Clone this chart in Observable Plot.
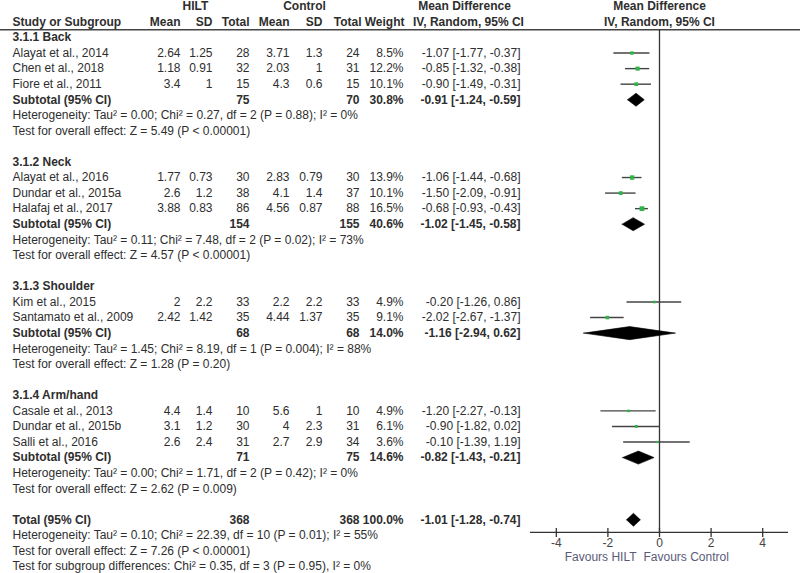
<!DOCTYPE html>
<html>
<head>
<meta charset="utf-8">
<script src="https://cdn.jsdelivr.net/npm/d3@7"></script>
<script src="https://cdn.jsdelivr.net/npm/@observablehq/plot@0.6"></script>
<style>
  html, body { margin: 0; padding: 0; background: #fff; }
  #chart svg { display: block; }
</style>
</head>
<body>
<div id="chart"></div>
<script>
// ---------------- data ----------------
const groups = ["3.1.1 Back", "3.1.2 Neck", "3.1.3 Shoulder", "3.1.4 Arm/hand"];
const studies = ["Alayat et al., 2014", "Chen et al., 2018", "Fiore et al., 2011",
  "Alayat et al., 2016", "Dundar et al., 2015a", "Halafaj et al., 2017",
  "Kim et al., 2015", "Santamato et al., 2009",
  "Casale et al., 2013", "Dundar et al., 2015b", "Salli et al., 2016"];
const studyGroup = [0, 0, 0, 1, 1, 1, 2, 2, 3, 3, 3];
const hiltMean = [2.64, 1.18, 3.4, 1.77, 2.6, 3.88, 2, 2.42, 4.4, 3.1, 2.6];
const hiltSD = [1.25, 0.91, 1, 0.73, 1.2, 0.83, 2.2, 1.42, 1.4, 1.2, 2.4];
const hiltN = [28, 32, 15, 30, 38, 86, 33, 35, 10, 30, 31];
const ctrlMean = [3.71, 2.03, 4.3, 2.83, 4.1, 4.56, 2.2, 4.44, 5.6, 4, 2.7];
const ctrlSD = [1.3, 1, 0.6, 0.79, 1.4, 0.87, 2.2, 1.37, 1, 2.3, 2.9];
const ctrlN = [24, 31, 15, 30, 37, 88, 33, 35, 10, 31, 34];
const weight = [8.5, 12.2, 10.1, 13.9, 10.1, 16.5, 4.9, 9.1, 4.9, 6.1, 3.6];
const md = [-1.07, -0.85, -0.90, -1.06, -1.50, -0.68, -0.20, -2.02, -1.20, -0.90, -0.10];
const mdLo = [-1.77, -1.32, -1.49, -1.44, -2.09, -0.93, -1.26, -2.67, -2.27, -1.82, -1.39];
const mdHi = [-0.37, -0.38, -0.31, -0.68, -0.91, -0.43, 0.86, -1.37, -0.13, 0.02, 1.19];

const subHiltN = [75, 154, 68, 71];
const subCtrlN = [70, 155, 68, 75];
const subWeight = [30.8, 40.6, 14.0, 14.6];
const subMd = [-0.91, -1.02, -1.16, -0.82];
const subLo = [-1.24, -1.45, -2.94, -1.43];
const subHi = [-0.59, -0.58, 0.62, -0.21];
const subTau2 = ["0.00", "0.11", "1.45", "0.00"];
const subChi2 = ["0.27", "7.48", "8.19", "1.71"];
const subDf = [2, 2, 1, 2];
const subHetP = ["= 0.88", "= 0.02", "= 0.004", "= 0.42"];
const subI2 = [0, 73, 88, 0];
const subZ = ["5.49", "4.57", "1.28", "2.62"];
const subZP = ["< 0.00001", "< 0.00001", "= 0.20", "= 0.009"];

const totalHiltN = 368, totalCtrlN = 368, totalWeight = 100.0;
const totalMd = -1.01, totalLo = -1.28, totalHi = -0.74;
const totalTau2 = "0.10", totalChi2 = "22.39", totalDf = 10, totalHetP = "= 0.01", totalI2 = 55;
const totalZ = "7.26", totalZP = "< 0.00001";
const subgroupChi2 = "0.35", subgroupDf = 3, subgroupP = "= 0.95", subgroupI2 = 0;

const xTicks = [-4, -2, 0, 2, 4];
const favours = ["Favours HILT", "Favours Control"];
const headerTop = ["HILT", "Control", "Mean Difference"];
const headerCols = ["Study or Subgroup", "Mean", "SD", "Total", "Mean", "SD", "Total", "Weight", "IV, Random, 95% CI"];

// ---------------- layout ----------------
const cols = {
  label: {x: 12, anchor: "start"},
  hm: {x: 180, anchor: "end"},
  hsd: {x: 212, anchor: "end"},
  hn: {x: 249, anchor: "end"},
  cm: {x: 289, anchor: "end"},
  csd: {x: 322, anchor: "end"},
  cn: {x: 359, anchor: "end"},
  w: {x: 403, anchor: "end"},
  md: {x: 520, anchor: "end"}
};
const headerColPos = [
  {x: 12, anchor: "start"}, {x: 180, anchor: "end"}, {x: 212, anchor: "end"}, {x: 249, anchor: "end"},
  {x: 289, anchor: "end"}, {x: 322, anchor: "end"}, {x: 361, anchor: "end"}, {x: 404, anchor: "end"},
  {x: 468, anchor: "middle"}
];
const headerTopPos = [{x: 195, anchor: "middle"}, {x: 304, anchor: "middle"}, {x: 464, anchor: "middle"}];

const f2 = v => v.toFixed(2);
const ciText = (m, l, h) => `${f2(m)} [${f2(l)}, ${f2(h)}]`;
const hetText = (t, c, df, p, i2) => `Heterogeneity: Tau² = ${t}; Chi² = ${c}, df = ${df} (P ${p}); I² = ${i2}%`;
const zText = (z, p) => `Test for overall effect: Z = ${z} (P ${p})`;

const cells = [];
const studyRows = [];
const diamonds = [];
let r = 0;
groups.forEach((g, gi) => {
  cells.push({row: r, col: "label", text: g, bold: true});
  r++;
  studies.forEach((s, i) => {
    if (studyGroup[i] !== gi) return;
    cells.push({row: r, col: "label", text: s});
    cells.push({row: r, col: "hm", text: String(hiltMean[i])});
    cells.push({row: r, col: "hsd", text: String(hiltSD[i])});
    cells.push({row: r, col: "hn", text: String(hiltN[i])});
    cells.push({row: r, col: "cm", text: String(ctrlMean[i])});
    cells.push({row: r, col: "csd", text: String(ctrlSD[i])});
    cells.push({row: r, col: "cn", text: String(ctrlN[i])});
    cells.push({row: r, col: "w", text: weight[i].toFixed(1) + "%"});
    cells.push({row: r, col: "md", text: ciText(md[i], mdLo[i], mdHi[i])});
    studyRows.push({row: r, md: md[i], lo: mdLo[i], hi: mdHi[i], w: weight[i]});
    r++;
  });
  cells.push({row: r, col: "label", text: "Subtotal (95% CI)", bold: true});
  cells.push({row: r, col: "hn", text: String(subHiltN[gi]), bold: true});
  cells.push({row: r, col: "cn", text: String(subCtrlN[gi]), bold: true});
  cells.push({row: r, col: "w", text: subWeight[gi].toFixed(1) + "%", bold: true});
  cells.push({row: r, col: "md", text: ciText(subMd[gi], subLo[gi], subHi[gi]), bold: true});
  diamonds.push({id: "g" + gi, row: r, md: subMd[gi], lo: subLo[gi], hi: subHi[gi]});
  r++;
  cells.push({row: r, col: "label", text: hetText(subTau2[gi], subChi2[gi], subDf[gi], subHetP[gi], subI2[gi])});
  r++;
  cells.push({row: r, col: "label", text: zText(subZ[gi], subZP[gi])});
  r++;
  r++;
});
cells.push({row: r, col: "label", text: "Total (95% CI)", bold: true});
cells.push({row: r, col: "hn", text: String(totalHiltN), bold: true});
cells.push({row: r, col: "cn", text: String(totalCtrlN), bold: true});
cells.push({row: r, col: "w", text: totalWeight.toFixed(1) + "%", bold: true});
cells.push({row: r, col: "md", text: ciText(totalMd, totalLo, totalHi), bold: true});
diamonds.push({id: "total", row: r, md: totalMd, lo: totalLo, hi: totalHi});
const totalRow = r;
r++;
cells.push({row: r, col: "label", text: hetText(totalTau2, totalChi2, totalDf, totalHetP, totalI2)});
r++;
cells.push({row: r, col: "label", text: zText(totalZ, totalZP)});
r++;
cells.push({row: r, col: "label", text: `Test for subgroup differences: Chi² = ${subgroupChi2}, df = ${subgroupDf} (P ${subgroupP}), I² = ${subgroupI2}%`});
const lastRow = r;

const axisRow = totalRow + 0.81;
const halfH = 0.42;
const diamondPts = diamonds.flatMap(d => [
  {id: d.id, x: d.lo, y: d.row},
  {id: d.id, x: d.md, y: d.row - halfH},
  {id: d.id, x: d.hi, y: d.row},
  {id: d.id, x: d.md, y: d.row + halfH},
  {id: d.id, x: d.lo, y: d.row}
]);

const FONT = "Liberation Sans, Arial, Helvetica, sans-serif";
const TXT = "#2e2e2e";
const marks = [];

// header rows
headerTop.forEach((t, i) => marks.push(Plot.text([t], {
  y: () => -2, text: d => d, frameAnchor: "left", dx: headerTopPos[i].x, textAnchor: headerTopPos[i].anchor,
  fontSize: 12, fontWeight: "bold", fill: TXT, fontFamily: FONT
})));
headerCols.forEach((t, i) => marks.push(Plot.text([t], {
  y: () => -1, text: d => d, frameAnchor: "left", dx: headerColPos[i].x, textAnchor: headerColPos[i].anchor,
  fontSize: 12, fontWeight: "bold", fill: TXT, fontFamily: FONT
})));
marks.push(Plot.text([headerTop[2]], {x: () => 0, y: () => -2, text: d => d, fontSize: 12, fontWeight: "bold", fill: TXT, fontFamily: FONT}));
marks.push(Plot.text([headerCols[8]], {x: () => 0, y: () => -1, text: d => d, fontSize: 12, fontWeight: "bold", fill: TXT, fontFamily: FONT}));
marks.push(Plot.ruleY([-0.5], {stroke: "#444", strokeWidth: 1.6}));

// table body
Object.entries(cols).forEach(([key, c]) => {
  [false, true].forEach(b => {
    const data = cells.filter(d => d.col === key && !!d.bold === b);
    if (!data.length) return;
    marks.push(Plot.text(data, {
      y: "row", text: "text", frameAnchor: "left", dx: c.x, textAnchor: c.anchor,
      fontSize: 12, fontWeight: b ? "bold" : "normal", fill: TXT, fontFamily: FONT
    }));
  });
});

// forest plot
marks.push(Plot.ruleX([0], {y1: -0.5, y2: axisRow, stroke: "#333", strokeWidth: 1.3}));
marks.push(Plot.ruleY(studyRows, {y: "row", x1: "lo", x2: "hi", stroke: "#444", strokeWidth: 1.4}));
marks.push(Plot.dot(studyRows, {x: "md", y: "row", r: "w", symbol: "square", fill: "#2fb548", stroke: "none"}));
marks.push(Plot.line(diamondPts, {x: "x", y: "y", z: "id", fill: "#000", stroke: "#000", strokeWidth: 0.6}));

// axis
marks.push(Plot.ruleY([axisRow], {x1: -5, x2: 5, stroke: "#333", strokeWidth: 1.3}));
marks.push(Plot.ruleX(xTicks, {x: d => d, y1: axisRow - 0.25, y2: axisRow + 0.33, stroke: "#333", strokeWidth: 1.3}));
marks.push(Plot.text(xTicks, {x: d => d, y: () => axisRow, dy: 11, text: d => String(d), fontSize: 12, fill: "#444", fontFamily: FONT}));
marks.push(Plot.text([favours[0]], {x: () => 0, y: () => axisRow, dy: 25, dx: -23, textAnchor: "end", text: d => d, fontSize: 12, fill: "#5a5a78", fontFamily: FONT}));
marks.push(Plot.text([favours[1]], {x: () => 0, y: () => axisRow, dy: 25, dx: -16, textAnchor: "start", text: d => d, fontSize: 12, fill: "#5a5a78", fontFamily: FONT}));

const chart = Plot.plot({
  width: 800,
  height: 573,
  marginLeft: 0,
  marginRight: 0,
  marginTop: 0,
  marginBottom: 0,
  x: {type: "linear", domain: [-5, 5], range: [530, 788], axis: null},
  y: {type: "linear", domain: [0, lastRow], range: [37, 566], axis: null},
  r: {type: "sqrt", domain: [0, 16.5], range: [0, 2.7]},
  style: {fontFamily: FONT, fontSize: "12px", background: "#fff", overflow: "visible"},
  marks
});
document.getElementById("chart").appendChild(chart);
</script>
</body>
</html>
